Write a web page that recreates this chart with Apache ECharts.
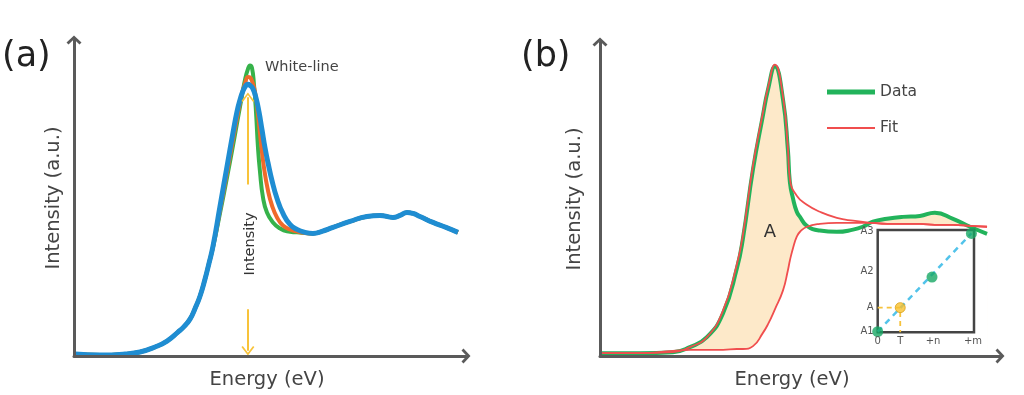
<!DOCTYPE html>
<html>
<head>
<meta charset="utf-8">
<script src="https://cdn.jsdelivr.net/npm/echarts@6/dist/echarts.min.js"></script>
<style>html,body{margin:0;padding:0;background:#fff}#c{width:1024px;height:395px}</style>
</head>
<body>
<div id="c"></div>
<script>
// ---------- Panel (a): normalized absorption spectra ----------
const aBlueX = [0.25, 6.53, 12.81, 16.58, 20.35, 23.37, 26.13, 27.64, 29.15, 30.40, 31.66, 32.91, 33.92, 34.92, 36.68, 38.44, 39.95, 40.95, 41.71, 42.46, 43.22, 43.72, 44.22, 44.97, 45.73, 46.48, 47.24, 47.99, 48.74, 49.75, 51.01, 52.51, 54.27, 56.03, 58.04, 60.05, 62.31, 65.08, 69.35, 73.62, 76.88, 80.15, 81.91, 83.67, 85.18, 86.93, 90.20, 93.47, 96.48];
const aBlueY = [0.63, 0.32, 0.63, 1.26, 2.84, 4.73, 7.57, 9.31, 11.67, 14.98, 18.93, 24.29, 29.34, 34.70, 47.32, 59.94, 70.66, 77.29, 81.07, 83.91, 85.65, 85.96, 85.65, 84.54, 81.70, 77.29, 71.61, 65.93, 61.20, 55.52, 49.84, 45.11, 41.64, 40.06, 39.12, 38.80, 39.43, 40.69, 42.59, 44.16, 44.48, 43.85, 44.48, 45.43, 45.11, 44.16, 42.27, 40.69, 39.12];
const aGreenX = [0.25, 6.53, 12.81, 16.58, 20.35, 23.37, 26.13, 27.64, 29.15, 30.40, 31.66, 32.91, 33.92, 34.92, 36.68, 38.44, 39.95, 41.21, 42.21, 42.96, 43.72, 44.22, 44.72, 45.23, 45.73, 46.23, 46.73, 47.49, 48.49, 50.00, 51.76, 53.52, 56.03, 58.04, 60.05, 62.31, 65.08, 69.35, 73.62, 76.88, 80.15, 81.91, 83.67, 85.18, 86.93, 90.20, 93.47, 96.48];
const aGreenY = [0.63, 0.32, 0.63, 1.26, 2.84, 4.73, 7.57, 9.31, 11.67, 14.98, 18.93, 24.29, 29.34, 34.38, 45.11, 56.47, 66.56, 75.39, 82.33, 87.38, 90.85, 91.96, 91.17, 85.80, 77.29, 65.93, 58.36, 50.16, 45.43, 42.27, 40.38, 39.43, 39.12, 38.96, 38.80, 39.43, 40.69, 42.59, 44.16, 44.48, 43.85, 44.48, 45.43, 45.11, 44.16, 42.27, 40.69, 39.12];
const aOrangeX = [0.25, 6.53, 12.81, 16.58, 20.35, 23.37, 26.13, 27.64, 29.15, 30.40, 31.66, 32.91, 33.92, 34.92, 36.68, 38.44, 39.95, 41.21, 42.21, 42.96, 43.72, 44.22, 44.72, 45.48, 46.23, 46.98, 47.74, 48.74, 49.75, 51.01, 52.51, 54.27, 56.03, 58.04, 60.05, 62.31, 65.08, 69.35, 73.62, 76.88, 80.15, 81.91, 83.67, 85.18, 86.93, 90.20, 93.47, 96.48];
const aOrangeY = [0.63, 0.32, 0.63, 1.26, 2.84, 4.73, 7.57, 9.31, 11.67, 14.98, 18.93, 24.29, 29.34, 34.54, 46.06, 58.04, 68.45, 76.97, 82.97, 86.12, 88.33, 88.17, 87.07, 83.60, 76.34, 67.51, 59.62, 52.37, 47.63, 43.85, 41.29, 40.06, 39.43, 38.96, 38.80, 39.43, 40.69, 42.59, 44.16, 44.48, 43.85, 44.48, 45.43, 45.11, 44.16, 42.27, 40.69, 39.12];

// ---------- Panel (b): data, arctan step and fit ----------
const bX = [0.5, 9.9, 18.0, 22.2, 26.4, 30.4, 33.8, 35.3, 37.8, 40.2, 41.5, 43.2, 45.2, 46.4, 46.9, 47.7, 48.6, 49.4, 51.1, 54.3, 58.5, 62.5, 64.9, 67.4, 70.9, 74.8, 79.0, 82.7, 87.2, 91.4, 95.6];
const bData = [0.9, 0.9, 1.2, 2.8, 5.9, 13.4, 27.4, 36.8, 58.6, 75.1, 83.5, 90.7, 80.4, 64.8, 54.5, 49.2, 45.2, 43.6, 40.8, 39.3, 38.9, 39.6, 40.5, 42.1, 43.0, 43.6, 43.9, 44.9, 43.0, 40.5, 38.3];
const bStep = [0.9, 0.9, 1.6, 1.9, 1.9, 1.9, 2.2, 2.2, 3.1, 7.17, 9.97, 14.64, 20.56, 26.79, 29.91, 33.96, 37.38, 38.94, 40.5, 41.4, 41.7, 41.7, 41.7, 41.7, 41.4, 41.4, 41.4, 41.1, 41.1, 40.8, 40.5];
const bFitX = [0.5, 9.9, 18.0, 22.2, 26.4, 30.4, 33.8, 35.3, 37.8, 40.2, 41.5, 43.2, 45.2, 46.4, 46.9, 48.6, 51.1, 54.3, 58.5, 62.5, 67.4, 70.9, 74.8, 79.0, 82.7, 87.2, 91.4, 95.6];
const bFit = [0.9, 0.9, 1.2, 2.8, 5.9, 14.3, 28.7, 38.0, 59.8, 76.0, 84.1, 91.3, 81.3, 65.4, 55.5, 50.2, 47.4, 45.2, 43.3, 42.4, 41.7, 41.4, 41.4, 41.4, 41.1, 41.1, 40.8, 40.5];

// ---------- Inset ----------
const insetGreenX = [0, 56.4, 97.3];
const insetGreenY = [0.6, 54.0, 96.7];
const insetYellowX = [23.4];
const insetYellowY = [24.1];
const insetXTicks = [0, 23.4, 57.5, 99];
const insetXLabels = ['0', 'T', '+n', '+m'];
const insetYTicks = [1, 24.5, 60, 99];
const insetYLabels = ['A1', 'A', 'A2', 'A3'];

const zip = (xs, ys) => xs.map((x, i) => [x, ys[i]]);
const fillTop = bData.map((v, i) => Math.max(v, bStep[i]));

const FONT = '"DejaVu Sans", Verdana, sans-serif';
const chevron = 'path://M7.5,0L15,7L13,9L7.5,3.8L2,9L0,7Z';
const thinChevron = 'path://M6.5,0L13,8.5L11.6,9.5L6.5,2.6L1.4,9.5L0,8.5Z';
const AXIS_COLOR = '#5a5a5a';

function mainX(gi, max, pad) {
  return {
    gridIndex: gi, type: 'value', min: 0, max: max, z: 10,
    axisLine: { show: true, onZero: false, lineStyle: { color: AXIS_COLOR, width: 3 }, symbol: ['none', chevron], symbolSize: [15, 9] },
    axisTick: { show: false }, axisLabel: { show: false }, splitLine: { show: false },
    name: 'Energy (eV)', nameLocation: 'middle', nameGap: 14,
    nameTextStyle: { fontSize: 19.5, color: '#444', fontFamily: FONT, padding: pad }
  };
}
function mainY(gi, max, gap) {
  return {
    gridIndex: gi, type: 'value', min: 0, max: max, z: 10,
    axisLine: { show: true, onZero: false, lineStyle: { color: AXIS_COLOR, width: 3 }, symbol: ['none', chevron], symbolSize: [15, 9] },
    axisTick: { show: false }, axisLabel: { show: false }, splitLine: { show: false },
    name: 'Intensity (a.u.)', nameLocation: 'middle', nameGap: gap,
    nameTextStyle: { fontSize: 19.5, color: '#444', fontFamily: FONT }
  };
}
const lookup = (ticks, labels) => (v) => {
  let best = 0;
  ticks.forEach((t, i) => { if (Math.abs(t - v) < Math.abs(ticks[best] - v)) best = i; });
  return labels[best];
};

const chart = echarts.init(document.getElementById('c'), null, { renderer: 'canvas' });
const option = {
  animation: false,
  backgroundColor: '#fff',
  grid: [
    { left: 74, top: 40, width: 392, height: 317 },
    { left: 600, top: 42, width: 400, height: 316 },
    { left: 877.7, top: 230, width: 96.3, height: 102.3, show: true, borderColor: '#444', borderWidth: 2.5, backgroundColor: 'transparent', z: 5 }
  ],
  xAxis: [
    mainX(0, 98.5, [0, 6, 0, 0]),
    mainX(1, 98.8, [0, 16, 0, 0]),
    { gridIndex: 2, type: 'value', min: 0, max: 100, z: 10, axisLine: { show: false }, axisTick: { show: false }, splitLine: { show: false },
      axisLabel: { customValues: insetXTicks, formatter: lookup(insetXTicks, insetXLabels), fontSize: 10, color: '#555', margin: 4, fontFamily: FONT } }
  ],
  yAxis: [
    mainY(0, 100, 10),
    mainY(1, 98.4, 15),
    { gridIndex: 2, type: 'value', min: 0, max: 100, z: 10, axisLine: { show: false }, axisTick: { show: false }, splitLine: { show: false },
      axisLabel: { customValues: insetYTicks, formatter: lookup(insetYTicks, insetYLabels), fontSize: 10, color: '#555', margin: 4, fontFamily: FONT } }
  ],
  legend: {
    data: [{ name: 'Data', icon: 'path://M0,0H48V5H0Z' }, { name: 'Fit', icon: 'path://M0,0H48V2H0Z' }],
    left: 822, top: 79, orient: 'vertical', itemWidth: 48, itemHeight: 16, itemGap: 20,
    selectedMode: false, textStyle: { fontSize: 15.5, color: '#444', fontFamily: FONT }
  },
  graphic: [
    { type: 'text', x: 2, y: 57, z: 10, style: { text: '(a)', font: '35px ' + FONT, fill: '#222', textAlign: 'left', textVerticalAlign: 'middle' } },
    { type: 'text', x: 521, y: 57, z: 10, style: { text: '(b)', font: '35px ' + FONT, fill: '#222', textAlign: 'left', textVerticalAlign: 'middle' } },
    { type: 'text', x: 265, y: 67, z: 10, style: { text: 'White-line', font: '14.5px ' + FONT, fill: '#444', textAlign: 'left', textVerticalAlign: 'middle' } },
    { type: 'text', x: 250, y: 244, z: 10, rotation: Math.PI / 2, style: { text: 'Intensity', font: '14.5px ' + FONT, fill: '#333', textAlign: 'center', textVerticalAlign: 'middle' } },
    { type: 'text', x: 770, y: 232, z: 10, style: { text: 'A', font: '18px ' + FONT, fill: '#333', textAlign: 'center', textVerticalAlign: 'middle' } }
  ],
  series: [
    // panel (a)
    { name: 'a-green', type: 'line', xAxisIndex: 0, yAxisIndex: 0, data: zip(aGreenX, aGreenY), smooth: true, symbol: 'none', lineStyle: { color: '#36b24a', width: 4 }, z: 2 },
    { name: 'a-orange', type: 'line', xAxisIndex: 0, yAxisIndex: 0, data: zip(aOrangeX, aOrangeY), smooth: true, symbol: 'none', lineStyle: { color: '#f06a2a', width: 4 }, z: 3 },
    { name: 'a-blue', type: 'line', xAxisIndex: 0, yAxisIndex: 0, data: zip(aBlueX, aBlueY), smooth: true, symbol: 'none', lineStyle: { color: '#1f8dd2', width: 5 }, z: 4 },
    { name: 'a-arrows', type: 'line', xAxisIndex: 0, yAxisIndex: 0, data: [], z: 6,
      markLine: { silent: true, symbol: ['none', thinChevron], symbolSize: [13, 9.5], label: { show: false },
        lineStyle: { color: '#f8c33a', width: 2, type: 'solid' },
        data: [
          [{ coord: [43.7, 54.3] }, { coord: [43.7, 81.9] }],
          [{ coord: [43.7, 14.8] }, { coord: [43.7, 1.7] }]
        ] } },
    // panel (b) fill between data and step: beige under the upper edge, white under the step
    { name: 'fill-top', type: 'line', xAxisIndex: 1, yAxisIndex: 1, data: zip(bX, fillTop), smooth: true, symbol: 'none', lineStyle: { opacity: 0 }, areaStyle: { color: '#fde9c9', opacity: 1 }, z: 1 },
    { name: 'fill-mask', type: 'line', xAxisIndex: 1, yAxisIndex: 1, data: zip(bX, bStep), smooth: true, symbol: 'none', lineStyle: { opacity: 0 }, areaStyle: { color: '#ffffff', opacity: 1 }, z: 1 },
    { name: 'Data', type: 'line', xAxisIndex: 1, yAxisIndex: 1, data: zip(bX, bData), smooth: true, symbol: 'none', lineStyle: { color: '#22b35b', width: 4 }, itemStyle: { color: '#22b35b' }, z: 3 },
    { name: 'Fit', type: 'line', xAxisIndex: 1, yAxisIndex: 1, data: zip(bX, bStep), smooth: true, symbol: 'none', lineStyle: { color: '#f04e4e', width: 1.8 }, itemStyle: { color: '#f04e4e' }, z: 4 },
    { name: 'Fit', type: 'line', xAxisIndex: 1, yAxisIndex: 1, data: zip(bFitX, bFit), smooth: true, symbol: 'none', lineStyle: { color: '#f04e4e', width: 1.8 }, itemStyle: { color: '#f04e4e' }, z: 4 },
    // inset
    { name: 'inset-guide', type: 'line', xAxisIndex: 2, yAxisIndex: 2, data: [[0, insetYellowY[0]], [insetYellowX[0], insetYellowY[0]], [insetYellowX[0], 0]], symbol: 'none', lineStyle: { color: '#f6c23c', width: 1.8, type: [5, 4] }, z: 6 },
    { name: 'inset-fit', type: 'line', xAxisIndex: 2, yAxisIndex: 2, data: [[insetGreenX[0], insetGreenY[0]], [insetGreenX[2], insetGreenY[2]]], symbol: 'none', lineStyle: { color: '#52c3ea', width: 2.5, type: [6, 5] }, z: 6 },
    { name: 'inset-yellow', type: 'scatter', xAxisIndex: 2, yAxisIndex: 2, clip: false, data: zip(insetYellowX, insetYellowY), symbolSize: 10, itemStyle: { color: '#f7c02e', borderColor: '#d9a21b', borderWidth: 1 }, z: 7 },
    { name: 'inset-green', type: 'scatter', xAxisIndex: 2, yAxisIndex: 2, clip: false, data: zip(insetGreenX, insetGreenY), symbolSize: 11, itemStyle: { color: '#17a864' }, z: 7 }
  ]
};
chart.setOption(option);
</script>
</body>
</html>
